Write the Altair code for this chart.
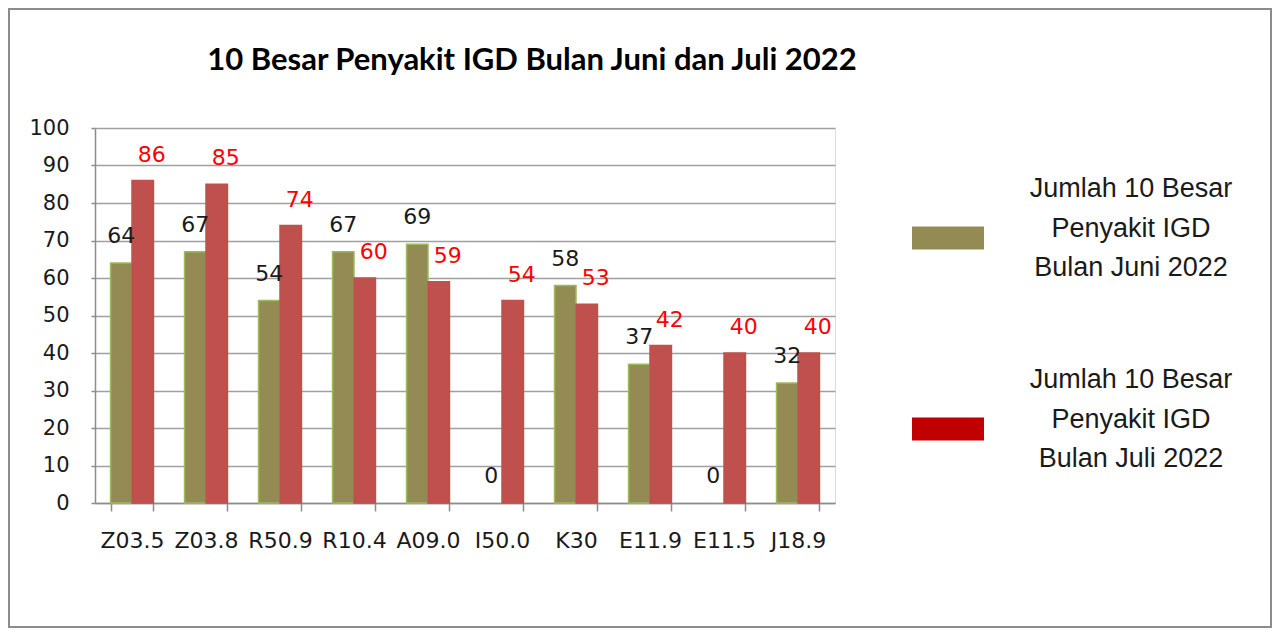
import altair as alt
import pandas as pd

categories = ["Z03.5", "Z03.8", "R50.9", "R10.4", "A09.0", "I50.0", "K30", "E11.9", "E11.5", "J18.9"]
juni = [64, 67, 54, 67, 69, 0, 58, 37, 0, 32]
juli = [86, 85, 74, 60, 59, 54, 53, 42, 40, 40]
series = ["Jumlah 10 Besar|Penyakit IGD|Bulan Juni 2022",
          "Jumlah 10 Besar|Penyakit IGD|Bulan Juli 2022"]
title_text = "10 Besar Penyakit IGD Bulan Juni dan Juli 2022"

rows = []
for k, a, b in zip(categories, juni, juli):
    rows.append({"kode": k, "seri": series[0], "nilai": a})
    rows.append({"kode": k, "seri": series[1], "nilai": b})
df = pd.DataFrame(rows)

x_enc = alt.X("kode:N", sort=categories, title=None,
              scale=alt.Scale(paddingInner=0.42, paddingOuter=0.21),
              axis=alt.Axis(labelAngle=0, tickBand="extent", tickSize=8, labelPadding=19,
                            labelFont="DejaVu Sans", labelFontSize=22, labelColor="#1a1a1a",
                            domainColor="#8c8c8c", tickColor="#8c8c8c", domainWidth=1.5,
                            tickWidth=1.5, grid=False))
xoff = alt.XOffset("seri:N", sort=series)
y_enc = alt.Y("nilai:Q", title=None,
              scale=alt.Scale(domain=[0, 100], nice=False),
              axis=alt.Axis(values=list(range(0, 101, 10)), tickSize=4, labelPadding=22,
                            labelOverlap=False,
                            labelFont="DejaVu Sans", labelFontSize=21, labelColor="#1a1a1a",
                            domainColor="#8c8c8c", tickColor="#8c8c8c", domainWidth=1.5,
                            tickWidth=1.5, gridColor="#a0a0a0", gridWidth=1.5))

is_juni = alt.datum.seri == series[0]
base = alt.Chart(df)

bars = base.mark_bar(strokeWidth=1.5).encode(
    x=x_enc, xOffset=xoff, y=y_enc,
    fill=alt.condition(is_juni, alt.value("#948A54"), alt.value("#C0504D")),
    stroke=alt.condition(is_juni, alt.value("#9BBB59"), alt.value("#C0504D")),
    strokeOpacity=alt.condition(alt.datum.nilai > 0, alt.value(1), alt.value(0)),
)

legend_layer = base.mark_bar().encode(
    x=x_enc, xOffset=xoff, y=y_enc, y2=alt.Y2("nilai:Q"),
    color=alt.Color("seri:N", title=None,
                    scale=alt.Scale(domain=series, range=["#948A54", "#C00000"]),
                    legend=alt.Legend(orient="none", legendX=817, legendY=25, rowPadding=63,
                                      symbolType="M-1,1.04L1,1.04L1,1.68L-1,1.68Z",
                                      symbolSize=5184, symbolOpacity=1, symbolStrokeWidth=0,
                                      labelExpr="split(datum.label, '|')",
                                      labelFont="Liberation Sans", labelFontSize=27,
                                      labelColor="#1a1a1a", labelAlign="center",
                                      labelOffset=147, labelLimit=500)),
)

lab_juni = base.transform_filter(is_juni).mark_text(
    font="DejaVu Sans", fontSize=22, color="#1a1a1a", baseline="middle", dy=-27
).encode(x=x_enc, xOffset=xoff, y=y_enc, text="nilai:Q")

lab_juli = base.transform_filter(alt.datum.seri == series[1]).mark_text(
    font="DejaVu Sans", fontSize=22, color="#FF0000", baseline="middle", dy=-26, dx=9
).encode(x=x_enc, xOffset=xoff, y=y_enc, text="nilai:Q")

frame = alt.Chart(pd.DataFrame({"a": [0]})).mark_rect(
    fill=None, stroke="#8c8c8c", strokeWidth=2
).encode(x=alt.value(-86), x2=alt.value(1176), y=alt.value(-119), y2=alt.value(499))

chart = alt.layer(frame, bars, legend_layer, lab_juni, lab_juli).properties(
    width=740, height=375,
    autosize=alt.AutoSizeParams(type="none"),
    padding={"left": 87, "top": 120, "right": 437, "bottom": 125},
    title=alt.TitleParams(title_text, font="Lato", fontSize=31, fontWeight="bold",
                          color="#000000", anchor="middle", dx=67, offset=-100,
                          baseline="bottom"),
).configure_view(stroke=None).configure(
    background="white",
    style={"guide-label": {"lineHeight": 39.5}},
)

chart.save("out.html", embed_options={"renderer": "svg", "actions": False})
